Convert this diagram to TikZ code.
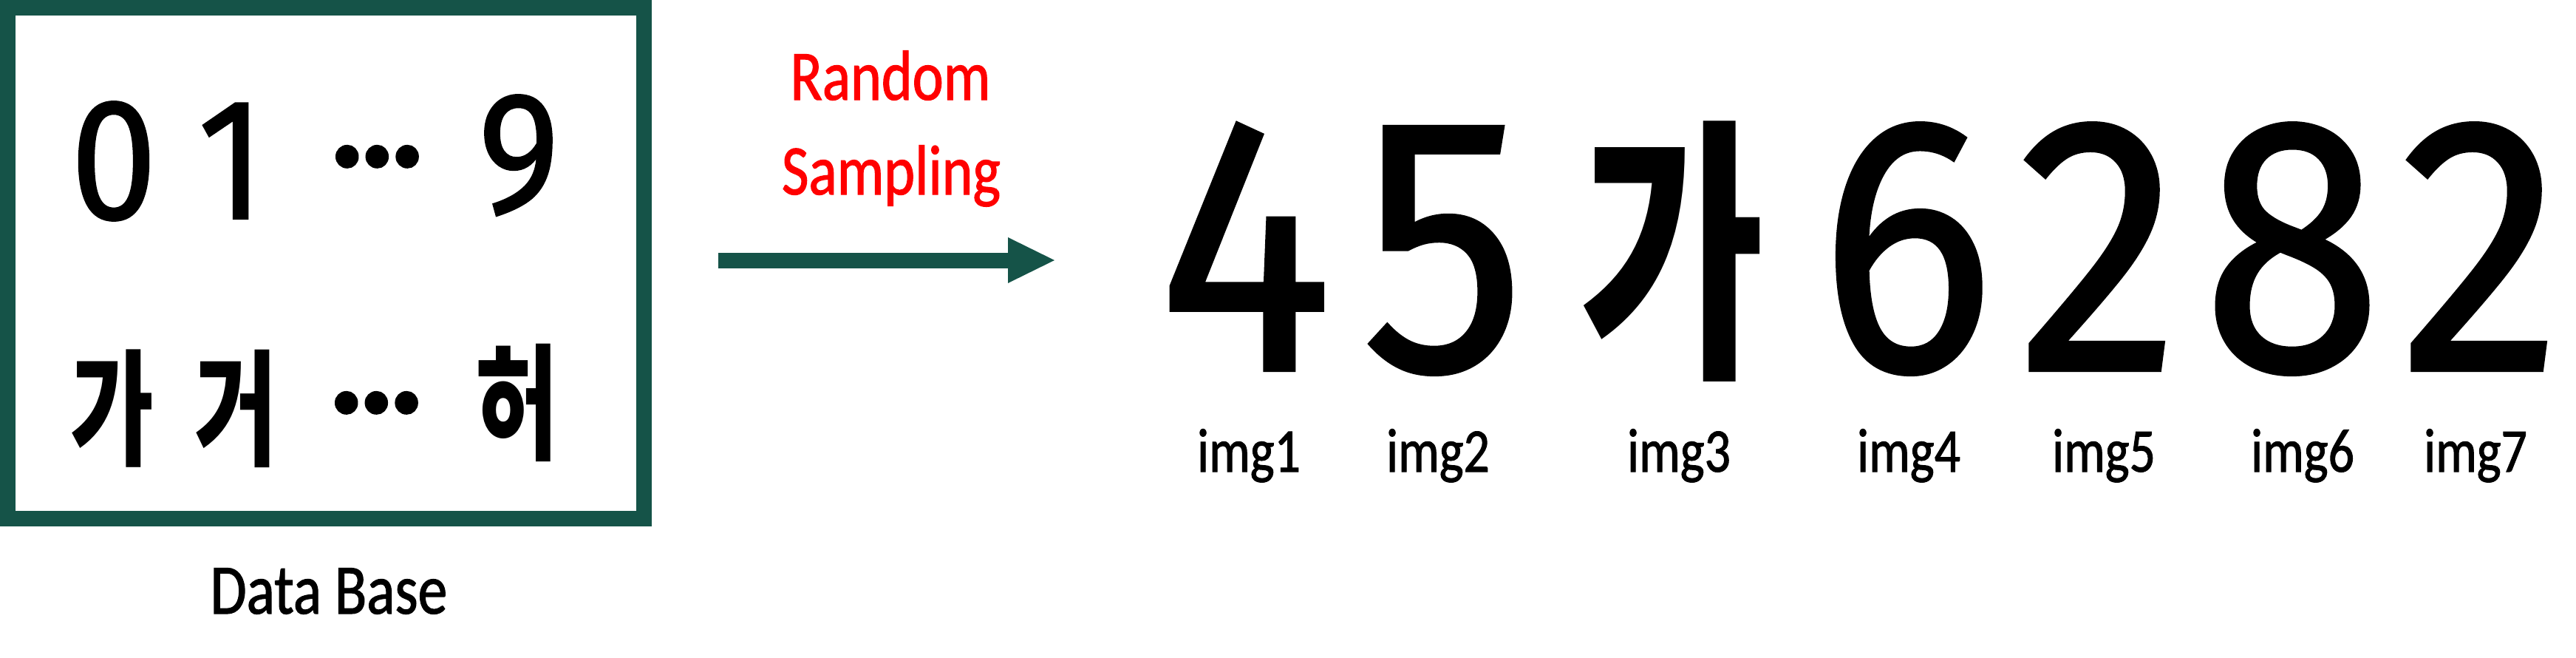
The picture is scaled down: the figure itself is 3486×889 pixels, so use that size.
\documentclass[tikz,border=0pt]{standalone}
\usepackage{fontspec}
\usetikzlibrary{arrows.meta}
\setmainfont{Carlito}
\newfontfamily\labfont[FakeStretch=0.83,FakeBold=1.2]{Carlito}
\newfontfamily\numfont[FakeStretch=0.9,FakeBold=0.9]{Fira Sans}
\newfontfamily\hanfont[FakeStretch=0.72]{Noto Sans CJK KR}
\newfontfamily\dotfont[FakeBold=2.3]{Poppins}
\definecolor{dbgreen}{RGB}{21,83,72}

\begin{document}
\begin{tikzpicture}
  [x=1pt,y=-1pt,every node/.style={inner sep=0pt,outer sep=0pt,anchor=base},
   bignum/.style={font=\numfont\fontsize{493}{493}\selectfont,text depth=0pt},
   bighan/.style={font=\hanfont\bfseries\fontsize{376}{376}\selectfont,anchor=center},
   smallnum/.style={font=\numfont\fontsize{234}{234}\selectfont,text depth=0pt},
   smallhan/.style={font=\hanfont\bfseries\fontsize{170}{170}\selectfont,anchor=center},
   ellip/.style={font=\dotfont\fontsize{217}{217}\selectfont,text depth=0pt},
   lab/.style={font=\labfont\fontsize{84}{84}\selectfont},
   caption/.style={font=\labfont\fontsize{96}{96}\selectfont}]
  \useasboundingbox (0,0) rectangle (3486,889);
  % data base box
  \draw[dbgreen,line width=21pt] (10.5,10.5) rectangle (871.5,701.5);
  \node[smallnum] (d0) at (154,296) {0};
  \node[smallnum] (d1) at (313,296) {1};
  \node[ellip] (e1) at (510,224) {…};
  \node[smallnum] (d9) at (702,287) {9};
  \node[smallhan] (h1) at (152,553) {가};
  \node[smallhan] (h2) at (320,553) {거};
  \node[ellip] (e2) at (509,557) {…};
  \node[smallhan] (h3) at (700,545) {허};
  \node[caption] (db) at (445,830) {Data Base};
  % sampling arrow
  \node[caption,red] (rs1) at (1205,135) {Random};
  \node[caption,red] (rs2) at (1206,263) {Sampling};
  \coordinate (a1) at (972,352);
  \coordinate (a2) at (1427,352);
  \draw[dbgreen,line width=21pt,-{Triangle[length=63pt,width=62pt,line width=0pt]}] (a1) -- (a2);
  % sampled images
  \foreach \i/\c/\x in {1/4/1685,2/5/1953,4/6/2580,5/2/2840,6/8/3102,7/2/3357}
    \node[bignum] (s\i) at (\x,501) {\c};
  \node[bighan] (s3) at (2263,340) {가};
  \foreach \i/\x in {1/1690,2/1946,3/2272,4/2583,5/2847,6/3116,7/3350}
    \node[lab] (l\i) at (\x,638) {img\i};
\end{tikzpicture}
\end{document}
